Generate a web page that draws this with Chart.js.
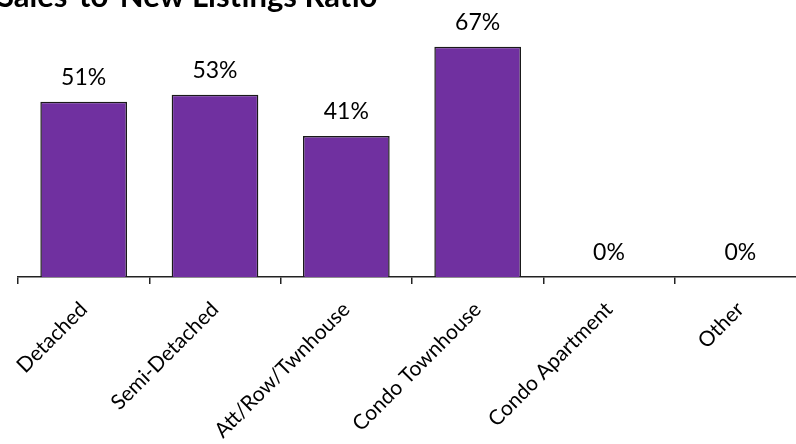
<!DOCTYPE html>
<html>
<head>
<meta charset="utf-8">
<script src="https://cdn.jsdelivr.net/npm/chart.js@4.4.1/dist/chart.umd.min.js"></script>
<style>
html, body { margin: 0; padding: 0; background: #fff; overflow: hidden; }
#wrap { position: absolute; left: 0; top: 0; width: 820px; height: 444px; }
</style>
</head>
<body>
<div id="wrap"><canvas id="c" width="820" height="444"></canvas></div>
<script>
const chartTitle = "Sales-to-New Listings Ratio";
const categories = ["Detached", "Semi-Detached", "Att/Row/Twnhouse", "Condo Townhouse", "Condo Apartment", "Other"];
const ratioValues = [0.51, 0.53, 0.41, 0.67, 0, 0];
const valueLabels = ["51%", "53%", "41%", "67%", "0%", "0%"];

const FONT = "Lato, 'Open Sans', sans-serif";

const titlePlugin = {
  id: 'cutTitle',
  afterDraw(chart) {
    const ctx = chart.ctx;
    ctx.save();
    ctx.font = "bold 31px " + FONT;
    ctx.fillStyle = "#000";
    ctx.textAlign = "left";
    ctx.textBaseline = "alphabetic";
    ctx.fillText(chartTitle, -3, 7);
    ctx.restore();
  }
};

const valueLabelPlugin = {
  id: 'valueLabels',
  afterDatasetsDraw(chart) {
    const ctx = chart.ctx;
    const meta = chart.getDatasetMeta(0);
    ctx.save();
    ctx.font = "23px " + FONT;
    ctx.fillStyle = "#000";
    ctx.textAlign = "center";
    ctx.textBaseline = "alphabetic";
    meta.data.forEach((bar, i) => {
      ctx.fillText(valueLabels[i], bar.x, bar.y - 17);
    });
    ctx.restore();
  }
};

new Chart(document.getElementById('c'), {
  type: 'bar',
  data: {
    labels: categories,
    datasets: [{
      data: ratioValues,
      backgroundColor: '#7030A0',
      borderColor: '#1a1a1a',
      borderWidth: 1.5,
      categoryPercentage: 1,
      barPercentage: 0.66
    }]
  },
  options: {
    responsive: false,
    animation: false,
    devicePixelRatio: 1,
    layout: { padding: { left: 18, right: 14, top: 2, bottom: 0 } },
    plugins: { legend: { display: false }, title: { display: false }, tooltip: { enabled: false } },
    scales: {
      x: {
        afterFit(scale) { scale.height = 167; },
        border: { display: true, color: '#222', width: 1.5 },
        grid: { display: true, offset: true, drawOnChartArea: false, drawTicks: true, tickLength: 7, color: '#222', lineWidth: 1.5 },
        ticks: { minRotation: 45, maxRotation: 45, color: '#000', font: { family: FONT, size: 21 }, padding: 13, autoSkip: false }
      },
      y: {
        display: false,
        min: 0,
        max: 0.8
      }
    }
  },
  plugins: [titlePlugin, valueLabelPlugin]
});
</script>
</body>
</html>
